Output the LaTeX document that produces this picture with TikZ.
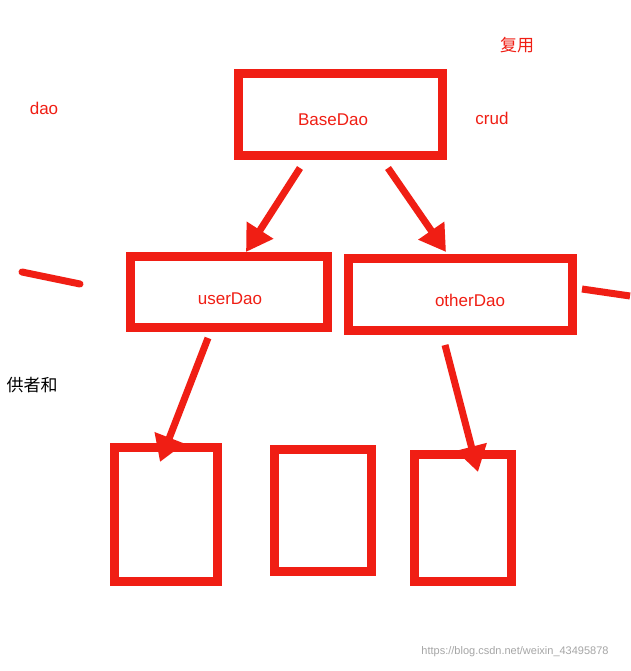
\documentclass[tikz,border=0pt]{standalone}
\usepackage{fontspec}
\setmainfont{Liberation Sans}
\newfontfamily\cjk{Noto Sans CJK SC}
\usetikzlibrary{arrows.meta}
\definecolor{rd}{RGB}{240,30,20}
\begin{document}
\begin{tikzpicture}[x=1pt,y=-1pt,
  box/.style={draw=rd,line width=9pt},
  lbl/.style={text=rd,font=\fontsize{17}{20}\selectfont},
  arr/.style={draw=rd,line width=7pt,-{Triangle[length=26pt,width=30pt]}}]
\useasboundingbox (0,0) rectangle (630,671);
\fill[white] (0,0) rectangle (630,671);
\draw[box] (238,74) rectangle (442,156);
\node[lbl] (base) at (333,120) {BaseDao};
\draw[box] (130,256) rectangle (327,327);
\node[lbl] (user) at (230,299) {userDao};
\draw[box] (348,258) rectangle (572,330);
\node[lbl] (other) at (470,300) {otherDao};
\draw[box] (114,447) rectangle (217,581);
\draw[box] (274,449) rectangle (371,571);
\draw[box] (414,454) rectangle (511,581);
\node[lbl] (fy) at (517,45) {\cjk 复用};
\node[lbl] (dao) at (44,108) {dao};
\node[lbl] (crud) at (492,118) {crud};
\node[font=\cjk\fontsize{17}{20}\selectfont] (gz) at (32,385) {供者和};
\node[text=gray!70,font=\fontsize{11}{13}\selectfont] (wm) at (515,652) {https://blog.csdn.net/weixin\_43495878};
\coordinate (a1) at (300,168); \coordinate (b1) at (246,252);
\coordinate (a2) at (388,168); \coordinate (b2) at (446,252);
\coordinate (a3) at (208,338); \coordinate (b3) at (160,462);
\coordinate (a4) at (445,345); \coordinate (b4) at (478,472);
\draw[arr] (a1) -- (b1);
\draw[arr] (a2) -- (b2);
\draw[arr] (a3) -- (b3);
\draw[arr] (a4) -- (b4);
\coordinate (s1) at (22,272); \coordinate (s2) at (80,284);
\draw[rd,line width=7pt,line cap=round] (s1) -- (s2);
\coordinate (s3) at (582,289); \coordinate (s4) at (630,296);
\draw[rd,line width=7pt] (s3) -- (s4);
\end{tikzpicture}
\end{document}
